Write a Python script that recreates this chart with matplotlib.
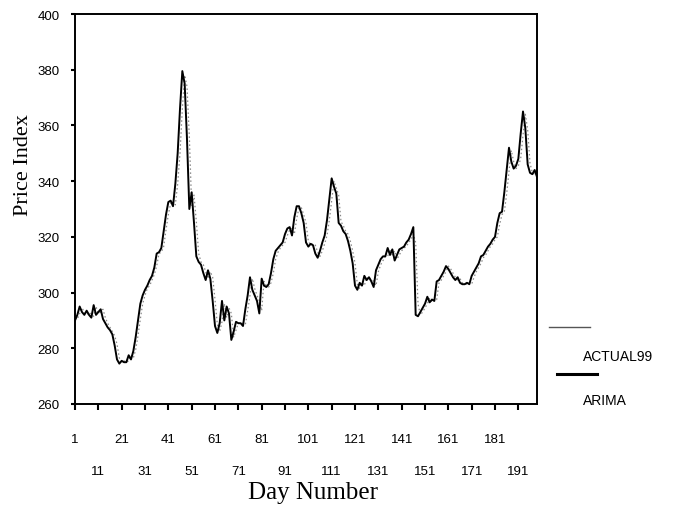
import matplotlib
matplotlib.use("Agg")
import matplotlib.pyplot as plt
from matplotlib.lines import Line2D
import numpy as np

days = list(range(1, 200))

arima = [
    290, 292, 295, 293, 292, 293.5, 292, 291, 295.5, 292,
    293, 294, 290.5, 289, 287.5, 286.5, 285, 281, 276, 274.5,
    275.5, 275, 275, 277.5, 276, 279, 284, 290, 296, 299,
    301, 302.5, 304.5, 306, 309, 314, 314.5, 316, 322, 328,
    332.5, 333, 331, 339, 350, 366, 379.5, 375, 355, 330,
    336, 325, 313, 311, 310, 307, 304.5, 308, 305, 297,
    288, 285.5, 289, 297, 290, 295, 292.5, 283, 286, 289.5,
    289, 289, 288, 294, 299, 305.5, 301, 299, 297, 292.5,
    305, 302.5, 302, 303, 307, 312, 315, 316, 317, 318,
    321, 323, 323.5, 320.5, 327, 331, 331, 328.5, 325, 318,
    316.5, 317.5, 317, 314, 312.5, 315, 318, 320.5, 326, 333.5,
    341, 338, 335.5, 325, 324, 322, 321, 318.5, 315, 310.5,
    302.5, 301, 303.5, 302.5, 306, 304.5, 305.5, 304, 302, 308,
    310, 312, 313, 313, 316, 313.5, 315.5, 311.5, 313.5, 315.5,
    316, 316.5, 318, 319, 321, 323.5, 292, 291.5, 293, 294.5,
    296, 298.5, 296.5, 297.5, 297, 304, 304.5, 306, 307.5, 309.5,
    308.5, 307, 305.5, 304.5, 305.5, 303.5, 303, 303, 303.5, 303,
    306, 307.5, 309, 310.5, 313, 313.5, 315, 316.5, 317.5, 319,
    320, 325, 328.5, 329, 336, 344, 352, 347, 344.5, 345.5,
    348, 357, 365, 359, 346, 343, 342.5, 344, 341.5,
]

actual99 = [
    291, 290.5, 292.5, 294.5, 293, 292, 293, 292, 291.5, 295,
    292.5, 293, 294, 291, 289, 287.5, 286, 284.5, 281.5, 276.5,
    275, 275.5, 275, 275.5, 277.5, 276.5, 279.5, 284.5, 290.5, 296,
    299, 301.5, 302.5, 304.5, 306.5, 309.5, 314, 314.5, 316.5, 322.5,
    328, 332, 333, 331.5, 339, 350, 366, 378, 374, 356,
    331, 335, 325.5, 314, 311, 310, 307.5, 305, 307.5, 305.5,
    297.5, 288.5, 286, 289.5, 296, 291, 294.5, 292.5, 284, 286.5,
    289, 289, 289, 288.5, 293.5, 299, 305, 301.5, 299, 297,
    293.5, 304, 302.5, 302, 303.5, 307, 312, 314.5, 316, 317,
    318, 320.5, 322.5, 323, 321, 326.5, 330.5, 330.5, 328, 325,
    318.5, 317, 317.5, 317, 314.5, 313, 315, 317.5, 320.5, 326,
    333, 340, 337.5, 335, 325.5, 324, 322, 321, 318.5, 315,
    310.5, 303, 301.5, 303.5, 302.5, 305.5, 304.5, 305, 304, 302.5,
    307.5, 310, 311.5, 313, 313, 315.5, 313.5, 315, 312, 313.5,
    315, 316, 316.5, 318, 319, 321, 318, 296, 292, 293,
    294.5, 296, 298, 296.5, 297.5, 297.5, 303.5, 304.5, 306, 307.5,
    309.5, 308.5, 307, 305.5, 304.5, 305, 303.5, 303, 303, 303.5,
    303, 305.5, 307.5, 309, 310.5, 312.5, 313.5, 315, 316.5, 317.5,
    319, 320, 324.5, 328, 329, 335.5, 343.5, 351, 347, 344.5,
    345.5, 348, 356.5, 364, 358.5, 346.5, 343, 342.5, 343.5,
]

yticks = [260, 280, 300, 320, 340, 360, 380, 400]
xticks_row1 = [1, 21, 41, 61, 81, 101, 121, 141, 161, 181]
xticks_row2 = [11, 31, 51, 71, 91, 111, 131, 151, 171, 191]

tick_font = ['Liberation Sans', 'DejaVu Sans']
serif_font = ['Liberation Serif', 'DejaVu Serif']

fig = plt.figure(figsize=(6.75, 5.1), dpi=100)
ax = fig.add_axes([75/675, 1-405/510, (537-75)/675, (405-15)/510])

ax.plot(days, actual99, color='#888888', lw=0.9, ls=(0, (1.2, 2.0)), zorder=2)
ax.plot(days, arima, color='black', lw=1.4, zorder=3)

ax.set_xlim(1, 199)
ax.set_ylim(260, 400)
ax.set_yticks(yticks)
ax.set_yticklabels([str(v) for v in yticks], family=tick_font, fontsize=9.5)
ax.set_xticks(xticks_row1)
ax.set_xticklabels([str(v) for v in xticks_row1], family=tick_font, fontsize=9.5)
ax.set_xticks(xticks_row2, minor=True)
ax.set_xticklabels([str(v) for v in xticks_row2], minor=True, family=tick_font, fontsize=9.5)

ax.tick_params(axis='x', which='major', direction='out', length=4, width=1.5, pad=17)
ax.tick_params(axis='x', which='minor', direction='out', length=4, width=1.5, pad=40)
ax.tick_params(axis='y', direction='out', length=3, width=1.5, pad=8)

for s in ax.spines.values():
    s.set_linewidth(1.4)

ax.set_ylabel('Price Index', family=serif_font, fontsize=16, labelpad=3)
ax.yaxis.set_label_coords(-0.09, 0.615)
fig.text(313/675, 1-493/510, 'Day Number', family=serif_font, fontsize=18,
         ha='center', va='center')

# legend placed to the right of the axes
fig.add_artist(Line2D([549/675, 590/675], [1-328/510, 1-328/510],
                      transform=fig.transFigure, color='#555555', lw=1.0))
fig.text(583/675, 1-357/510, 'ACTUAL99', family=tick_font, fontsize=10,
         ha='left', va='center')
fig.add_artist(Line2D([557/675, 597/675], [1-375/510, 1-375/510],
                      transform=fig.transFigure, color='black', lw=2.2))
fig.text(583/675, 1-401/510, 'ARIMA', family=tick_font, fontsize=10,
         ha='left', va='center')

fig.savefig('out.png', dpi=100)
